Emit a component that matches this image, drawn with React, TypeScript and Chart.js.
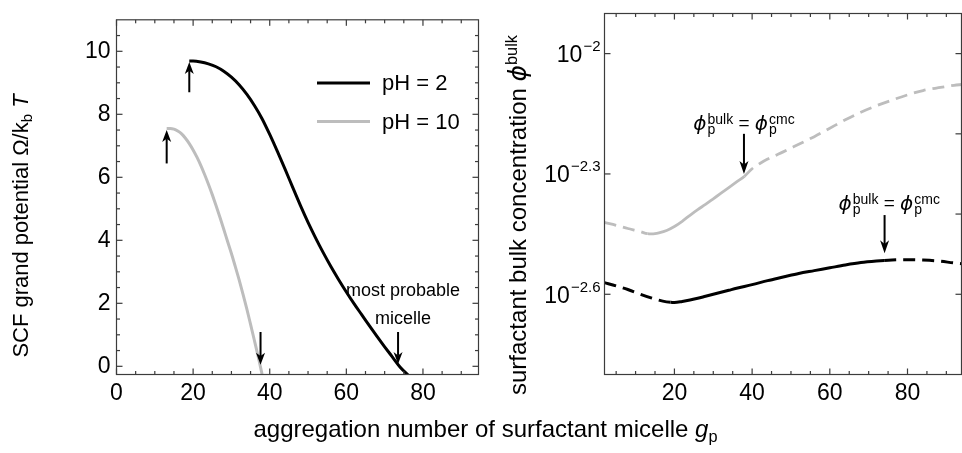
import React, { useEffect, useRef } from 'react';
import { Chart, registerables } from 'chart.js';
Chart.register(...registerables);

// ---------------- data ----------------
const seriesLabels = ['pH = 2', 'pH = 10'];

// left panel: SCF grand potential vs aggregation number
const leftG_pH2 = [19, 20, 22, 24, 26, 28, 30, 32, 34, 36, 38, 40, 42, 44, 46, 48, 50, 52, 54, 56, 58, 60, 62, 64, 66, 68, 70, 72, 74, 76, 77];
const leftOmega_pH2 = [9.69, 9.69, 9.66, 9.6, 9.51, 9.37, 9.18, 8.94, 8.64, 8.28, 7.86, 7.36, 6.82, 6.26, 5.68, 5.11, 4.57, 4.07, 3.6, 3.16, 2.75, 2.36, 1.99, 1.64, 1.29, 0.95, 0.62, 0.3, -0.02, -0.26, -0.36];
const leftG_pH10 = [13.1, 14, 15, 16, 17, 18, 19, 20, 21, 22, 23, 24, 25, 26, 27, 28, 29, 30, 31, 32, 33, 34, 35, 36, 37, 37.55, 38];
const leftOmega_pH10 = [7.55, 7.55, 7.53, 7.47, 7.38, 7.24, 7.07, 6.87, 6.64, 6.38, 6.09, 5.78, 5.45, 5.1, 4.73, 4.35, 3.96, 3.58, 3.17, 2.75, 2.3, 1.83, 1.33, 0.82, 0.3, 0.0, -0.25];

// right panel: log10 of surfactant bulk concentration vs aggregation number
const rightG_pH2 = [2, 5, 8, 11, 14, 17, 19, 20, 22, 24, 26, 28, 30, 32, 34, 36, 40, 44, 48, 52, 56, 60, 64, 68, 72, 74, 76, 80, 84, 88, 92, 94];
const rightLogPhi_pH2 = [-2.571, -2.579, -2.588, -2.599, -2.609, -2.617, -2.62, -2.6205, -2.618, -2.6145, -2.61, -2.605, -2.6, -2.595, -2.59, -2.585, -2.576, -2.566, -2.557, -2.548, -2.541, -2.534, -2.527, -2.521, -2.517, -2.5155, -2.5145, -2.514, -2.5148, -2.517, -2.522, -2.524];
const rightG_pH10 = [2, 5, 8, 11, 13.1, 14, 15, 16, 18, 20, 22, 24, 26, 28, 30, 32, 34, 36, 38, 40, 42, 44, 46, 48, 52, 56, 60, 64, 68, 72, 76, 80, 84, 88, 92, 94];
const rightLogPhi_pH10 = [-2.421, -2.428, -2.436, -2.443, -2.449, -2.4495, -2.449, -2.447, -2.441, -2.431, -2.418, -2.403, -2.389, -2.376, -2.362, -2.348, -2.334, -2.32, -2.306, -2.287, -2.274, -2.263, -2.254, -2.245, -2.226, -2.207, -2.186, -2.165, -2.146, -2.13, -2.116, -2.103, -2.092, -2.085, -2.079, -2.077];
// solid (stable) range of each right-panel curve; dashed outside
const solidRange_pH2 = [19, 74];
const solidRange_pH10 = [13.1, 38];

// axes
const leftXTicks = [0, 20, 40, 60, 80];
const leftYTicks = [0, 2, 4, 6, 8, 10];
const rightXTicks = [20, 40, 60, 80];
const rightYTickExps = [-2, -2.3, -2.6];
const rightYTickLabels = ['\u22122', '\u22122.3', '\u22122.6'];
const rightYRightExps = [-2, -2.2, -2.4, -2.6];

// annotations
const leftArrows = [
  { g: 19, from: 8.7, to: 9.66 },
  { g: 13.1, from: 6.44, to: 7.5 },
  { g: 37.6, from: 1.09, to: 0.05 },
  { g: 73.5, from: 1.09, to: 0.07 },
];
const leftNotes = [
  { g: 74.8, v: 2.24, text: 'most probable' },
  { g: 74.8, v: 1.33, text: 'micelle' },
];
const rightArrows = [
  { g: 37.9, from: -2.2, to: -2.3 },
  { g: 74.1, from: -2.4025, to: -2.498 },
];
const rightNotes = [
  { g: 37.9, e: -2.19 },
  { g: 75.3, e: -2.391 },
];

// ---------------- styling helpers ----------------
const FONT = "'Liberation Sans', Arial, Helvetica, sans-serif";
const BLACK = '#000000';
const GRAY = '#bdbdbd';
const FRAME = '#3c3c3c';

function range(a: number, b: number, s: number) {
  const out: number[] = [];
  for (let v = a; v <= b + 1e-9; v += s) out.push(+v.toFixed(6));
  return out;
}

function drawArrow(ctx: CanvasRenderingContext2D, x: number, y1: number, y2: number, headLen = 12, headW = 9) {
  const dir = Math.sign(y2 - y1);
  ctx.beginPath();
  ctx.moveTo(x, y1);
  ctx.lineTo(x, y2 - dir * headLen * 0.7);
  ctx.stroke();
  ctx.beginPath();
  ctx.moveTo(x, y2);
  ctx.lineTo(x - headW / 2, y2 - dir * headLen);
  ctx.lineTo(x, y2 - dir * headLen * 0.72);
  ctx.lineTo(x + headW / 2, y2 - dir * headLen);
  ctx.closePath();
  ctx.fill();
}

type TickCfg = {
  xMajor?: number[];
  xMinor?: number[];
  yLeftMajor?: number[];
  yLeftMinor?: number[];
  yRightMajor?: number[];
  yRightMinor?: number[];
};

function makeFrameTicks(cfg: TickCfg) {
  return {
    id: 'frameTicks',
    afterDraw(chart: any) {
      const ctx: CanvasRenderingContext2D = chart.ctx;
      const a = chart.chartArea;
      const xs = chart.scales.x;
      const ys = chart.scales.y;
      ctx.save();
      ctx.setLineDash([]);
      ctx.strokeStyle = FRAME;
      ctx.fillStyle = FRAME;
      ctx.lineWidth = 1.2;
      ctx.strokeRect(a.left, a.top, a.right - a.left, a.bottom - a.top);
      const W = 1.2;
      const MAJ = 6;
      const MIN = 3.5;
      const vt = (p: number, len: number) => {
        ctx.fillRect(p - W / 2, a.bottom - len, W, len);
        ctx.fillRect(p - W / 2, a.top, W, len);
      };
      const ht = (p: number, len: number, left: boolean) => {
        if (left) ctx.fillRect(a.left, p - W / 2, len, W);
        else ctx.fillRect(a.right - len, p - W / 2, len, W);
      };
      const inX = (p: number) => p > a.left + 0.5 && p < a.right - 0.5;
      const inY = (p: number) => p > a.top + 0.5 && p < a.bottom - 0.5;
      (cfg.xMajor || []).forEach((t) => vt(xs.getPixelForValue(t), MAJ));
      (cfg.xMinor || []).forEach((t) => {
        const p = xs.getPixelForValue(t);
        if (inX(p)) vt(p, MIN);
      });
      (cfg.yLeftMajor || []).forEach((t) => ht(ys.getPixelForValue(t), MAJ, true));
      (cfg.yLeftMinor || []).forEach((t) => {
        const p = ys.getPixelForValue(t);
        if (inY(p)) ht(p, MIN, true);
      });
      (cfg.yRightMajor || []).forEach((t) => ht(ys.getPixelForValue(t), MAJ, false));
      (cfg.yRightMinor || []).forEach((t) => {
        const p = ys.getPixelForValue(t);
        if (inY(p)) ht(p, MIN, false);
      });
      ctx.restore();
    },
  };
}

const leftDecorPlugin = {
  id: 'leftDecor',
  afterDatasetsDraw(chart: any) {
    const { ctx, scales } = chart;
    const xs = scales.x;
    const ys = scales.y;
    ctx.save();
    ctx.strokeStyle = BLACK;
    ctx.fillStyle = BLACK;
    ctx.lineWidth = 2;
    leftArrows.forEach((ar) => {
      drawArrow(ctx, xs.getPixelForValue(ar.g), ys.getPixelForValue(ar.from), ys.getPixelForValue(ar.to));
    });
    ctx.font = `18px ${FONT}`;
    ctx.textAlign = 'center';
    ctx.textBaseline = 'alphabetic';
    leftNotes.forEach((n) => {
      ctx.fillText(n.text, xs.getPixelForValue(n.g), ys.getPixelForValue(n.v));
    });
    // legend
    const ds = chart.data.datasets;
    const legendX0 = 317;
    const legendX1 = 370;
    const rows = [83, 121.5];
    ctx.font = `22px ${FONT}`;
    ctx.textAlign = 'left';
    ctx.textBaseline = 'middle';
    ds.forEach((d: any, i: number) => {
      ctx.strokeStyle = d.borderColor;
      ctx.lineWidth = 3.2;
      ctx.beginPath();
      ctx.moveTo(legendX0, rows[i]);
      ctx.lineTo(legendX1, rows[i]);
      ctx.stroke();
      ctx.fillStyle = BLACK;
      ctx.fillText(d.label, 382, rows[i] + 1);
    });
    ctx.restore();
  },
};

function drawPhiLabel(ctx: CanvasRenderingContext2D, cx: number, baseline: number, supA: string, supB: string) {
  const fPhi = "italic 20px 'DejaVu Sans', sans-serif";
  const fSmall = `14px ${FONT}`;
  const fEq = `19px ${FONT}`;
  const phi = '\u03D5';
  ctx.font = fPhi;
  const phiW = ctx.measureText(phi).width;
  ctx.font = fSmall;
  const pW = ctx.measureText('p').width;
  const aW = ctx.measureText(supA).width;
  const bW = ctx.measureText(supB).width;
  ctx.font = fEq;
  const eqW = ctx.measureText(' = ').width;
  const blockA = Math.max(pW, aW) + 1;
  const blockB = Math.max(pW, bW) + 1;
  const total = phiW + blockA + eqW + phiW + blockB;
  let x = cx - total / 2;
  ctx.textAlign = 'left';
  ctx.textBaseline = 'alphabetic';
  const piece = (s: string) => {
    ctx.font = fPhi;
    ctx.fillText(phi, x, baseline);
    x += phiW;
    ctx.font = fSmall;
    ctx.fillText('p', x + 1, baseline + 4);
    ctx.fillText(s, x + 1, baseline - 6);
  };
  piece(supA);
  x += blockA;
  ctx.font = fEq;
  ctx.fillText(' = ', x, baseline - 1);
  x += eqW;
  piece(supB);
}

const rightDecorPlugin = {
  id: 'rightDecor',
  afterDatasetsDraw(chart: any) {
    const { ctx, scales, chartArea: a } = chart;
    const xs = scales.x;
    const ys = scales.y;
    ctx.save();
    ctx.strokeStyle = BLACK;
    ctx.fillStyle = BLACK;
    ctx.lineWidth = 2;
    rightArrows.forEach((ar) => {
      drawArrow(ctx, xs.getPixelForValue(ar.g), ys.getPixelForValue(10 ** ar.from), ys.getPixelForValue(10 ** ar.to), 13, 9);
    });
    rightNotes.forEach((n) => {
      drawPhiLabel(ctx, xs.getPixelForValue(n.g), ys.getPixelForValue(10 ** n.e), 'bulk', 'cmc');
    });
    // y tick labels 10^e
    const R = a.left - 4;
    rightYTickExps.forEach((e, i) => {
      const y = ys.getPixelForValue(10 ** e);
      ctx.font = `15px ${FONT}`;
      const sup = rightYTickLabels[i];
      const sW = ctx.measureText(sup).width;
      ctx.textAlign = 'left';
      ctx.textBaseline = 'alphabetic';
      ctx.fillText(sup, R - sW, y - 2.5);
      ctx.font = `23px ${FONT}`;
      const bW = ctx.measureText('10').width;
      ctx.fillText('10', R - sW - bW - 1, y + 8.3);
    });
    ctx.restore();
  },
};

function pts(xs: number[], ys: number[], f?: (v: number) => number) {
  return xs.map((x, i) => ({ x, y: f ? f(ys[i]) : ys[i] }));
}

function dashOutside(range2: number[]) {
  return (ctx: any) => {
    const x0 = ctx.p0.parsed.x;
    const x1 = ctx.p1.parsed.x;
    if (x1 <= range2[0] + 1e-9 || x0 >= range2[1] - 1e-9) return [12, 7];
    return undefined;
  };
}

function LeftPanel() {
  const ref = useRef<HTMLCanvasElement | null>(null);
  useEffect(() => {
    if (!ref.current) return;
    const yMinor = range(-0.5, 11, 0.5).filter((v) => Math.abs(v % 2) > 1e-9);
    const chart = new Chart(ref.current, {
      type: 'line',
      data: {
        datasets: [
          {
            label: seriesLabels[0],
            data: pts(leftG_pH2, leftOmega_pH2),
            borderColor: BLACK,
            borderWidth: 3,
            pointRadius: 0,
            cubicInterpolationMode: 'monotone',
          },
          {
            label: seriesLabels[1],
            data: pts(leftG_pH10, leftOmega_pH10),
            borderColor: GRAY,
            borderWidth: 3,
            pointRadius: 0,
            cubicInterpolationMode: 'monotone',
          },
        ],
      },
      options: {
        responsive: false,
        animation: false,
        layout: { padding: { top: 13.5, right: 1.5, left: 0, bottom: 0 } },
        plugins: {
          legend: { display: false },
          tooltip: { enabled: false },
        },
        scales: {
          x: {
            type: 'linear',
            min: 0,
            max: 94.5,
            grid: { display: false, drawTicks: false },
            border: { display: false },
            ticks: { color: BLACK, font: { family: FONT, size: 23 }, padding: 5, maxRotation: 0 },
            afterBuildTicks: (s: any) => {
              s.ticks = leftXTicks.map((v) => ({ value: v }));
            },
            afterFit: (s: any) => {
              s.height = 78.5;
            },
          },
          y: {
            type: 'linear',
            min: -0.26,
            max: 11,
            grid: { display: false, drawTicks: false },
            border: { display: false },
            ticks: { color: BLACK, font: { family: FONT, size: 23 }, padding: 6 },
            afterBuildTicks: (s: any) => {
              s.ticks = leftYTicks.map((v) => ({ value: v }));
            },
            afterFit: (s: any) => {
              s.width = 116.5;
            },
          },
        },
      } as any,
      plugins: [
        leftDecorPlugin,
        makeFrameTicks({
          xMajor: leftXTicks,
          xMinor: range(0, 95, 5).filter((v) => v % 20 !== 0),
          yLeftMajor: leftYTicks,
          yLeftMinor: yMinor,
          yRightMajor: leftYTicks,
          yRightMinor: yMinor,
        }),
      ],
    });
    return () => chart.destroy();
  }, []);
  return <canvas ref={ref} width={480} height={453} style={{ position: 'absolute', left: 0, top: 0, width: 480, height: 453 }} />;
}

function RightPanel() {
  const ref = useRef<HTMLCanvasElement | null>(null);
  useEffect(() => {
    if (!ref.current) return;
    const pow = (v: number) => 10 ** v;
    const chart = new Chart(ref.current, {
      type: 'line',
      data: {
        datasets: [
          {
            label: seriesLabels[0],
            data: pts(rightG_pH2, rightLogPhi_pH2, pow),
            borderColor: BLACK,
            borderWidth: 3,
            pointRadius: 0,
            cubicInterpolationMode: 'monotone',
            segment: { borderDash: dashOutside(solidRange_pH2) },
          },
          {
            label: seriesLabels[1],
            data: pts(rightG_pH10, rightLogPhi_pH10, pow),
            borderColor: GRAY,
            borderWidth: 2.8,
            pointRadius: 0,
            cubicInterpolationMode: 'monotone',
            segment: { borderDash: dashOutside(solidRange_pH10) },
          },
        ],
      },
      options: {
        responsive: false,
        animation: false,
        layout: { padding: { top: 13.5, right: 0.5, left: 0, bottom: 0 } },
        plugins: {
          legend: { display: false },
          tooltip: { enabled: false },
        },
        scales: {
          x: {
            type: 'linear',
            min: 2,
            max: 93.9,
            grid: { display: false, drawTicks: false },
            border: { display: false },
            ticks: { color: BLACK, font: { family: FONT, size: 23 }, padding: 5, maxRotation: 0 },
            afterBuildTicks: (s: any) => {
              s.ticks = rightXTicks.map((v) => ({ value: v }));
            },
            afterFit: (s: any) => {
              s.height = 78.5;
            },
          },
          y: {
            type: 'logarithmic',
            min: 10 ** -2.8,
            max: 10 ** -1.9,
            grid: { display: false, drawTicks: false },
            border: { display: false },
            ticks: { display: false },
            afterBuildTicks: (s: any) => {
              s.ticks = rightYTickExps.map((e) => ({ value: 10 ** e }));
            },
            afterFit: (s: any) => {
              s.width = 124.5;
            },
          },
        },
      } as any,
      plugins: [
        rightDecorPlugin,
        makeFrameTicks({
          xMajor: rightXTicks,
          xMinor: range(5, 90, 5).filter((v) => v % 20 !== 0),
          yLeftMajor: rightYTickExps.map((e) => 10 ** e),
          yRightMajor: rightYRightExps.map((e) => 10 ** e),
        }),
      ],
    });
    return () => chart.destroy();
  }, []);
  return <canvas ref={ref} width={482} height={453} style={{ position: 'absolute', left: 480, top: 0, width: 482, height: 453 }} />;
}

const titleBase: React.CSSProperties = {
  position: 'absolute',
  fontFamily: FONT,
  lineHeight: '24px',
  height: 24,
  whiteSpace: 'nowrap',
  textAlign: 'center',
  color: '#000',
};
const subStyle: React.CSSProperties = { fontSize: '0.68em', verticalAlign: '-0.28em', lineHeight: 0 };
const supStyle: React.CSSProperties = { fontSize: '0.68em', verticalAlign: '0.55em', lineHeight: 0 };

// rotated title box: centred on (cx, cy), width W
function vTitle(cx: number, cy: number, W: number, size: number): React.CSSProperties {
  return {
    ...titleBase,
    fontSize: size,
    width: W,
    left: cx - W / 2,
    top: cy - 12,
    transform: 'rotate(-90deg)',
    transformOrigin: '50% 50%',
  };
}

export default function App() {
  return (
    <div style={{ position: 'absolute', left: 0, top: 0, width: 962, height: 453, background: '#fff', overflow: 'hidden' }}>
      <LeftPanel />
      <RightPanel />
      <div style={vTitle(20.5, 226, 400, 22)}>
        SCF grand potential Ω/k<span style={subStyle}>b</span> <i>T</i>
      </div>
      <div style={vTitle(518, 215, 440, 24)}>
        surfactant bulk concentration <i style={{ fontFamily: "'DejaVu Sans', sans-serif", fontSize: 25 }}>{'\u03D5'}</i>
        <span style={supStyle}>bulk</span>
      </div>
      <div style={{ ...titleBase, fontSize: 24, left: 485.5 - 300, width: 600, top: 417 }}>
        aggregation number of surfactant micelle <i>g</i>
        <span style={subStyle}>p</span>
      </div>
    </div>
  );
}
